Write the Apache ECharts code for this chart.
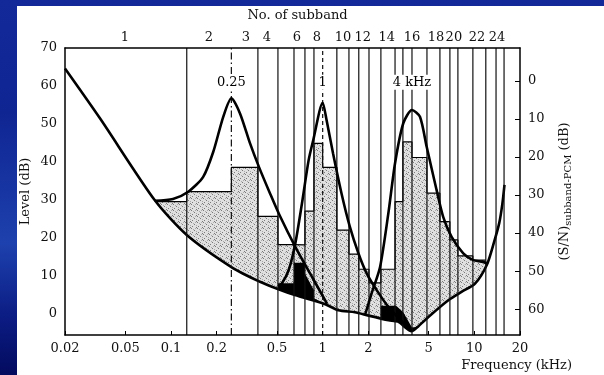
<!DOCTYPE html>
<html>
<head>
<meta charset="utf-8">
<script src="https://cdn.jsdelivr.net/npm/echarts@6/dist/echarts.min.js"></script>
<style>
  html, body { margin: 0; padding: 0; }
  body {
    width: 604px; height: 375px; overflow: hidden; position: relative;
    background: linear-gradient(180deg, #13299a 0%, #0f2592 30%, #1d41ae 65%, #0b1b82 85%, #030b5e 100%);
  }
  #chart { position: absolute; left: 17px; top: 6px; width: 587px; height: 369px; background: #fff; }
</style>
</head>
<body>
<div id="chart"></div>
<script>
// frequency axis (kHz), log scale
const freqTicks = [0.02, 0.05, 0.1, 0.2, 0.5, 1, 2, 5, 10, 20];
const levelTicks = [0, 10, 20, 30, 40, 50, 60, 70];
const snTicks = [0, 10, 20, 30, 40, 50, 60];
const snZeroLevel = 61.3; // level (dB) where (S/N) subband-PCM reads 0

// upper edges of the 24 subbands (kHz)
const subbandEdges = [0.127, 0.25, 0.374, 0.507, 0.647, 0.764, 0.876, 1.0, 1.24, 1.49, 1.73, 2.02,
  2.42, 3.0, 3.38, 3.88, 4.87, 5.93, 6.9, 7.79, 9.78, 11.9, 13.9, 15.7];
// subband numbers along the top, and where they sit (kHz)
const subbandNumbers = [1, 2, 3, 4, 6, 8, 10, 12, 14, 16, 18, 20, 22, 24];
const subbandNumberFreqs = [0.0497, 0.178, 0.312, 0.429, 0.677, 0.917, 1.36, 1.84, 2.65, 3.88, 5.58, 7.33, 10.4, 14.1];

// level of the block in each of subbands 1..22 (dB)
const bandLevels = [29.6, 32.2, 38.6, 25.7, 18.3, 18.2, 27.1, 44.9, 38.6, 22.1, 15.8, 11.8,
  8.2, 11.8, 29.6, 45.3, 41.2, 31.8, 24.3, 19.5, 15.3, 14.2];

// threshold in quiet
const quietFreqs = [0.02, 0.034, 0.078, 0.127, 0.256, 0.386, 0.506, 0.656, 1.04, 1.27, 1.63, 2.01,
  2.72, 3.14, 3.86, 4.25, 5.0, 6.77, 8.28, 10.1, 12.1, 13.5, 14.6, 15.3, 15.8];
const quietLevels = [64.6, 51.5, 30.0, 20.8, 12.1, 8.5, 6.6, 5.0, 2.6, 1.0, 0.5, -0.4,
  -1.6, -2.0, -4.5, -3.3, -0.7, 3.7, 5.9, 8.0, 13.0, 19.0, 24.0, 29.0, 34.0];

// masking curves of the three tones
const mask250Freqs = [0.078, 0.103, 0.13, 0.163, 0.19, 0.221, 0.25, 0.285, 0.332, 0.381, 0.449, 0.517, 0.66, 0.85, 1.07];
const mask250Levels = [29.8, 30.3, 32.2, 36.1, 42.7, 51.9, 56.8, 52.8, 44.9, 38.6, 31.8, 26.2, 17.7, 9.8, 2.7];
const mask1kFreqs = [0.509, 0.539, 0.597, 0.66, 0.73, 0.808, 0.867, 1.0, 1.06, 1.17, 1.33, 1.51, 1.72, 1.95, 2.27, 2.71, 3.23, 3.86];
const mask1kLevels = [7.3, 8.1, 11.6, 18.6, 29.1, 40.5, 45.8, 55.6, 51.1, 42.3, 31.8, 23.0, 16.0, 10.7, 6.3, 1.9, -1.4, -4.5];
const mask4kFreqs = [1.9, 2.1, 2.39, 2.71, 3.0, 3.4, 3.88, 4.38, 4.85, 5.64, 6.23, 7.08, 8.45, 9.83, 11.2, 12.1];
const mask4kLevels = [-0.3, 5.4, 12.4, 26.5, 39.7, 50.2, 53.7, 51.9, 44.0, 32.6, 25.6, 20.3, 16.0, 14.2, 13.8, 13.4];

// black regions (upper edge; they end at the threshold in quiet)
const blackLowFreqs = [0.507, 0.647, 0.647, 0.764, 0.764, 0.876, 0.876, 1.0, 1.07];
const blackLowLevels = [8.1, 8.1, 13.5, 13.5, 10.7, 6.3, 4.2, 2.9, 2.5];
const blackHighFreqs = [2.42, 3.05, 3.4, 3.88, 4.25];
const blackHighLevels = [2.2, 2.2, 0.5, -3.5, -3.3];

// tone markers
const toneFreqs = [0.25, 1, 3.88];
const toneNames = ['0.25', '1', '4 kHz'];
const toneNameLevel = 61;

const lg = Math.log10;
const xMin = lg(0.02), xMax = lg(20);
const yMin = -5.5, yMax = 70;
const pairs = (fs, ls) => fs.map((f, i) => [lg(f), ls[i]]);
const pick = (vals, labels) => (v) => {
  const i = vals.findIndex((f) => Math.abs(lg(f) - v) < 1e-6);
  return i < 0 ? '' : String(labels[i]);
};

// steps of the subband blocks
const bandLows = [0.02].concat(subbandEdges.slice(0, bandLevels.length - 1));
const stepData = bandLevels.map((v, i) => [lg(bandLows[i]), v]);
stepData.push([lg(subbandEdges[bandLevels.length - 1]), bandLevels[bandLevels.length - 1]]);

// tone lines are dashed
const edgeDash = { 0.25: [7, 3, 1.5, 3], 1: [4, 3] };

// stipple for the blocks
const dots = document.createElement('canvas');
dots.width = dots.height = 6;
const g = dots.getContext('2d');
g.fillStyle = '#e0e0e0';
g.fillRect(0, 0, 6, 6);
g.fillStyle = '#7a7a7a';
[[0, 0], [3, 2], [1, 4], [5, 5]].forEach(([x, y]) => g.fillRect(x, y, 1, 1));
g.fillStyle = '#aaaaaa';
[[2, 1], [5, 3], [4, 0]].forEach(([x, y]) => g.fillRect(x, y, 1, 1));

const font = { fontFamily: 'DejaVu Serif', fontSize: 13, color: '#111' };
const frame = { show: true, onZero: false, lineStyle: { color: '#000', width: 1.5 } };

const curve = (data, z) => ({
  type: 'line', data, z, smooth: 0.25, symbol: 'none', silent: true,
  lineStyle: { color: '#000', width: 2.6 },
});

const chart = echarts.init(document.getElementById('chart'));
chart.setOption({
  animation: false,
  grid: { left: 48, right: 84, top: 42, bottom: 40, containLabel: false, outerBoundsMode: 'none' },
  xAxis: [
    {
      type: 'value', position: 'bottom', min: xMin, max: xMax, z: 10,
      axisLine: frame,
      axisTick: { show: true, inside: true, length: 4, customValues: freqTicks.map(lg), lineStyle: { color: '#000' } },
      axisLabel: { ...font, margin: 7, customValues: freqTicks.map(lg), formatter: pick(freqTicks, freqTicks) },
      splitLine: { show: false },
      name: 'Frequency (kHz)', nameLocation: 'end', nameGap: 52, nameMoveOverlap: false,
      nameTextStyle: { ...font, align: 'right', verticalAlign: 'top', padding: [24, 0, 0, 0] },
    },
    {
      type: 'value', position: 'top', min: xMin, max: xMax, z: 10,
      axisLine: frame,
      axisTick: { show: false },
      axisLabel: { ...font, margin: 4, customValues: subbandNumberFreqs.map(lg), formatter: pick(subbandNumberFreqs, subbandNumbers) },
      splitLine: { show: false },
      name: 'No. of subband', nameLocation: 'middle', nameGap: 26, nameMoveOverlap: false,
      nameTextStyle: { ...font, padding: [0, 0, 0, 10] },
    },
  ],
  yAxis: [
    {
      type: 'value', min: yMin, max: yMax, z: 10,
      axisLine: frame,
      axisTick: { show: false },
      axisLabel: { ...font, margin: 8, customValues: levelTicks },
      splitLine: { show: false },
      name: 'Level (dB)', nameLocation: 'middle', nameRotate: 90, nameGap: 33, nameMoveOverlap: false,
      nameTextStyle: font,
    },
    {
      type: 'value', position: 'right', inverse: true,
      min: snZeroLevel - yMax, max: snZeroLevel - yMin, z: 10,
      axisLine: frame,
      axisTick: { show: true, inside: true, length: 5, customValues: snTicks, lineStyle: { color: '#000' } },
      axisLabel: { ...font, margin: 8, customValues: snTicks },
      splitLine: { show: false },
      name: '(S/N){sub|subband-PCM} (dB)', nameLocation: 'middle', nameRotate: 90, nameGap: 36, nameMoveOverlap: false,
      nameTextStyle: { ...font, rich: { sub: { fontFamily: 'DejaVu Serif', fontSize: 10, color: '#111', padding: [7, 0, 0, 0] } } },
    },
  ],
  series: [
    {
      // subband blocks
      type: 'line', step: 'end', data: stepData, z: 2, symbol: 'none', silent: true,
      lineStyle: { color: '#000', width: 1.2 },
      areaStyle: { color: { image: dots, repeat: 'repeat' }, opacity: 1, origin: 'start' },
    },
    {
      type: 'line', data: pairs(blackLowFreqs, blackLowLevels), z: 3, symbol: 'none', silent: true,
      lineStyle: { width: 0 }, areaStyle: { color: '#000', opacity: 1, origin: 'start' },
    },
    {
      type: 'line', data: pairs(blackHighFreqs, blackHighLevels), z: 3, symbol: 'none', silent: true,
      lineStyle: { width: 0 }, areaStyle: { color: '#000', opacity: 1, origin: 'start' },
    },
    {
      // threshold in quiet, white below it
      ...curve(pairs(quietFreqs, quietLevels), 4),
      areaStyle: { color: '#fff', opacity: 1, origin: 'start' },
    },
    {
      // subband borders
      type: 'custom', z: 5, silent: true,
      data: subbandEdges.map((f) => [lg(f), yMax]),
      encode: { x: 0, y: 1 },
      renderItem: (params, api) => {
        const f = subbandEdges[params.dataIndex];
        const a = api.coord([api.value(0), yMin]);
        const b = api.coord([api.value(0), yMax]);
        return {
          type: 'line',
          shape: { x1: a[0], y1: a[1], x2: b[0], y2: b[1] },
          style: { stroke: '#111', lineWidth: 1.2, lineDash: edgeDash[f] || null },
        };
      },
    },
    curve(pairs(mask250Freqs, mask250Levels), 6),
    curve(pairs(mask1kFreqs, mask1kLevels), 6),
    curve(pairs(mask4kFreqs, mask4kLevels), 6),
    {
      // tone names
      type: 'custom', z: 7, silent: true,
      data: toneFreqs.map((f) => [lg(f), toneNameLevel]),
      encode: { x: 0, y: 1 },
      renderItem: (params, api) => {
        const p = api.coord([api.value(0), api.value(1)]);
        return {
          type: 'text',
          style: {
            x: p[0], y: p[1], text: toneNames[params.dataIndex],
            align: 'center', verticalAlign: 'middle',
            fill: '#000', font: '13px "DejaVu Serif"',
            backgroundColor: '#fff', padding: [1, 2],
          },
        };
      },
    },
  ],
});
</script>
</body>
</html>
